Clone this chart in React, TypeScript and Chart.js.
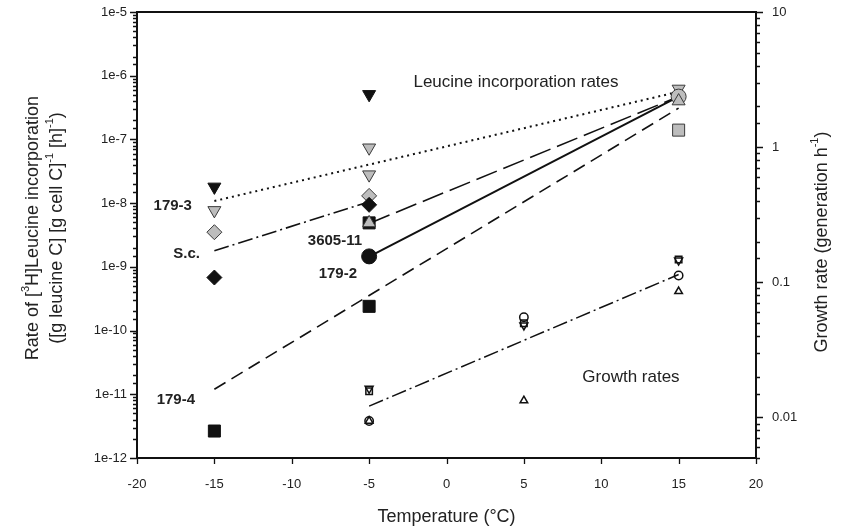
import React, { useEffect, useRef } from "react";
import { Chart, registerables } from "chart.js";

Chart.register(...registerables);

const FONT = "'Liberation Sans', Arial, Helvetica, sans-serif";

// ---------- axes ----------
const xMin = -20;
const xMax = 20;
const xStep = 5;
const leftMin = 1e-12;
const leftMax = 1e-5;
const rightMin = 0.005;
const rightMax = 10;
const leftTickLabels = ["1e-12", "1e-11", "1e-10", "1e-9", "1e-8", "1e-7", "1e-6", "1e-5"];
const leftTickExps = [-12, -11, -10, -9, -8, -7, -6, -5];
const rightTickLabels = ["0.01", "0.1", "1", "10"];
const rightTickExps = [-2, -1, 0, 1];

// ---------- leucine incorporation rates (left axis) ----------
const blackInvTriT = [-15, -5];
const blackInvTriV = [1.8e-8, 5.1e-7];
const grayInvTriT = [-15, -5, -5, 15];
const grayInvTriV = [7.7e-9, 7.4e-8, 2.8e-8, 6.2e-7];
const grayDiamondT = [-15, -5];
const grayDiamondV = [3.5e-9, 1.3e-8];
const blackDiamondT = [-15, -5];
const blackDiamondV = [6.8e-10, 9.4e-9];
const blackSquareT = [-15, -5, -5];
const blackSquareV = [2.65e-12, 4.9e-9, 2.4e-10];
const grayTriT = [-5, 15];
const grayTriV = [4.9e-9, 4.0e-7];
const blackCircleT = [-5];
const blackCircleV = [1.46e-9];
const grayCircleT = [15];
const grayCircleV = [4.7e-7];
const graySquareT = [15];
const graySquareV = [1.4e-7];

// regression lines (left axis)
const line1793T = [-15, 15];
const line1793V = [1.08e-8, 5.6e-7];
const lineScT = [-15, -5];
const lineScV = [1.79e-9, 1.05e-8];
const line360511T = [-5, 15];
const line360511V = [4.8e-9, 4.7e-7];
const line1792T = [-5, 15];
const line1792V = [1.45e-9, 4.7e-7];
const line1794T = [-15, 15];
const line1794V = [1.2e-11, 3.1e-7];

// ---------- growth rates (right axis) ----------
const openSquareT = [-5, 5, 15];
const openSquareV = [0.0156, 0.0497, 0.147];
const openInvTriT = [-5, 5, 15];
const openInvTriV = [0.0163, 0.048, 0.145];
const openCircleT = [-5, 5, 15];
const openCircleV = [0.0094, 0.055, 0.112];
const openTriT = [-5, 5, 15];
const openTriV = [0.0094, 0.0133, 0.0855];
const growthLineT = [-5, 15];
const growthLineV = [0.0121, 0.114];

// ---------- annotations ----------
const strainLabels = ["179-3", "S.c.", "179-4", "3605-11", "179-2"];
const strainLabelX = [-16.45, -15.93, -16.25, -5.46, -5.78];
const strainLabelY = [9.2e-9, 1.62e-9, 8.1e-12, 2.6e-9, 7.9e-10];
const regionLabels = ["Leucine incorporation rates", "Growth rates"];
const regionLabelX = [4.49, 11.92];
const regionLabelY = [8.0e-7, 1.87e-11];

const pts = (T: number[], V: number[]) => T.map((t, i) => ({ x: t, y: V[i] }));

const BLACK = "#111111";
const GRAY = "#bdbdbd";
const GRAY_EDGE = "#3a3a3a";

function markers(T: number[], V: number[], o: any) {
  return {
    type: "scatter",
    data: pts(T, V),
    yAxisID: o.axis || "y",
    showLine: false,
    pointStyle: o.style,
    pointRotation: o.rot || 0,
    pointRadius: o.r,
    pointHoverRadius: o.r,
    pointBackgroundColor: o.fill,
    pointBorderColor: o.edge,
    pointBorderWidth: o.bw || 1,
    clip: false,
  };
}

function line(T: number[], V: number[], o: any) {
  return {
    type: "scatter",
    data: pts(T, V),
    yAxisID: o.axis || "y",
    showLine: true,
    pointRadius: 0,
    pointHoverRadius: 0,
    borderColor: "#111",
    borderWidth: o.w || 1.6,
    borderDash: o.dash || [],
    fill: false,
    tension: 0,
    clip: false,
  };
}

const isDecade = (v: number) => Math.abs(Math.log10(v) - Math.round(Math.log10(v))) < 1e-6;

type Seg = { t: string; sup?: boolean };

function drawRich(ctx: CanvasRenderingContext2D, segs: Seg[], x: number, y: number, size: number, rot: number) {
  const supSize = Math.round(size * 0.62);
  let total = 0;
  const widths = segs.map((s) => {
    ctx.font = `${s.sup ? supSize : size}px ${FONT}`;
    const w = ctx.measureText(s.t).width;
    total += w;
    return w;
  });
  ctx.save();
  ctx.translate(x, y);
  ctx.rotate(rot);
  ctx.textBaseline = "middle";
  ctx.textAlign = "left";
  let cx = -total / 2;
  segs.forEach((s, i) => {
    ctx.font = `${s.sup ? supSize : size}px ${FONT}`;
    ctx.fillText(s.t, cx, s.sup ? -size * 0.38 : 0);
    cx += widths[i];
  });
  ctx.restore();
}

const decorPlugin = {
  id: "decor",
  afterDraw(chart: any) {
    const ctx: CanvasRenderingContext2D = chart.ctx;
    const { left, right, top, bottom } = chart.chartArea;
    const xs = chart.scales.x;
    const ys = chart.scales.y;
    const y2 = chart.scales.y2;
    ctx.save();
    ctx.strokeStyle = "#111";
    // ticks
    ctx.lineWidth = 1.3;
    ctx.beginPath();
    ys.ticks.forEach((t: any) => {
      const p = Math.round(ys.getPixelForValue(t.value)) + 0.5;
      const len = isDecade(t.value) ? 7 : 4;
      ctx.moveTo(left, p);
      ctx.lineTo(left - len, p);
    });
    y2.ticks.forEach((t: any) => {
      const p = Math.round(y2.getPixelForValue(t.value)) + 0.5;
      const len = isDecade(t.value) ? 7 : 4;
      ctx.moveTo(right, p);
      ctx.lineTo(right + len, p);
    });
    xs.ticks.forEach((t: any) => {
      const p = Math.round(xs.getPixelForValue(t.value)) + 0.5;
      ctx.moveTo(p, bottom);
      ctx.lineTo(p, bottom + 6);
    });
    ctx.stroke();
    // frame
    ctx.lineWidth = 2;
    ctx.strokeRect(left, top, right - left, bottom - top);

    // strain labels
    ctx.fillStyle = "#222";
    ctx.font = `bold 15px ${FONT}`;
    ctx.textAlign = "right";
    ctx.textBaseline = "middle";
    strainLabels.forEach((s, i) => {
      ctx.fillText(s, xs.getPixelForValue(strainLabelX[i]), ys.getPixelForValue(strainLabelY[i]));
    });
    ctx.font = `17px ${FONT}`;
    ctx.textAlign = "center";
    regionLabels.forEach((s, i) => {
      ctx.fillText(s, xs.getPixelForValue(regionLabelX[i]), ys.getPixelForValue(regionLabelY[i]));
    });

    // axis titles
    drawRich(ctx, [{ t: "Rate of [" }, { t: "3", sup: true }, { t: "H]Leucine incorporation" }], 33, 228, 18, -Math.PI / 2);
    drawRich(
      ctx,
      [{ t: "([g leucine C] [g cell C]" }, { t: "-1", sup: true }, { t: " [h]" }, { t: "-1", sup: true }, { t: ")" }],
      57,
      228,
      18,
      -Math.PI / 2
    );
    drawRich(ctx, [{ t: "Growth rate (generation h" }, { t: "-1", sup: true }, { t: ")" }], 822, 242, 18, -Math.PI / 2);
    drawRich(ctx, [{ t: "Temperature (°C)" }], (left + right) / 2, 517, 18, 0);
    ctx.restore();
  },
};

export default function App() {
  const ref = useRef<HTMLCanvasElement>(null);
  useEffect(() => {
    const canvas = ref.current;
    if (!canvas) return;
    const datasets: any[] = [
      // growth rate markers (right axis)
      markers(openSquareT, openSquareV, { axis: "y2", style: "rect", r: 4.6, fill: "rgba(0,0,0,0)", edge: BLACK, bw: 1.5 }),
      markers(openInvTriT, openInvTriV, { axis: "y2", style: "triangle", rot: 180, r: 4.6, fill: "#fff", edge: BLACK, bw: 1.5 }),
      markers(openCircleT, openCircleV, { axis: "y2", style: "circle", r: 4.2, fill: "rgba(0,0,0,0)", edge: BLACK, bw: 1.5 }),
      markers(openTriT, openTriV, { axis: "y2", style: "triangle", r: 4.4, fill: "rgba(0,0,0,0)", edge: BLACK, bw: 1.5 }),
      // leucine markers (left axis)
      markers(grayTriT, grayTriV, { style: "triangle", r: 7.5, fill: GRAY, edge: GRAY_EDGE }),
      markers(grayCircleT, grayCircleV, { style: "circle", r: 7.5, fill: GRAY, edge: GRAY_EDGE }),
      markers(grayInvTriT, grayInvTriV, { style: "triangle", rot: 180, r: 7.5, fill: GRAY, edge: GRAY_EDGE }),
      markers(blackInvTriT, blackInvTriV, { style: "triangle", rot: 180, r: 7.5, fill: BLACK, edge: BLACK }),
      markers(blackDiamondT, blackDiamondV, { style: "rectRot", r: 7.5, fill: BLACK, edge: BLACK }),
      markers(grayDiamondT, grayDiamondV, { style: "rectRot", r: 7.5, fill: GRAY, edge: GRAY_EDGE }),
      markers(blackSquareT, blackSquareV, { style: "rect", r: 8.5, fill: BLACK, edge: BLACK }),
      markers(graySquareT, graySquareV, { style: "rect", r: 8.5, fill: GRAY, edge: GRAY_EDGE }),
      markers(blackCircleT, blackCircleV, { style: "circle", r: 7.5, fill: BLACK, edge: BLACK }),
      // lines
      line(line1793T, line1793V, { dash: [2, 4], w: 2 }),
      line(lineScT, lineScV, { dash: [15, 4, 2, 4], w: 1.6 }),
      line(line360511T, line360511V, { dash: [22, 7], w: 1.6 }),
      line(line1792T, line1792V, { w: 2 }),
      line(line1794T, line1794V, { dash: [13, 7], w: 1.6 }),
      line(growthLineT, growthLineV, { axis: "y2", dash: [15, 4, 2, 4], w: 1.5 }),
    ];

    const noPad = (s: any) => {
      s.paddingTop = 0;
      s.paddingBottom = 0;
      s.paddingLeft = 0;
      s.paddingRight = 0;
    };

    const chart = new Chart(canvas, {
      type: "scatter",
      data: { datasets },
      options: {
        responsive: false,
        animation: false,
        events: [],
        layout: { padding: { top: 12, left: 0, right: 0, bottom: 0 } },
        plugins: { legend: { display: false }, tooltip: { enabled: false }, title: { display: false } },
        scales: {
          x: {
            type: "linear",
            position: "bottom",
            min: xMin,
            max: xMax,
            ticks: {
              stepSize: xStep,
              color: "#222",
              font: { family: FONT, size: 13 },
              padding: 13,
            },
            grid: { display: false, drawTicks: true, tickLength: 6 },
            border: { display: false },
            afterFit: (s: any) => {
              s.height = 72;
              noPad(s);
            },
          },
          y: {
            type: "logarithmic",
            position: "left",
            min: leftMin,
            max: leftMax,
            ticks: {
              autoSkip: false,
              color: "#222",
              font: { family: FONT, size: 13 },
              padding: 3,
              callback: (v: any) => {
                const n = Number(v);
                if (!isDecade(n)) return "";
                const i = leftTickExps.indexOf(Math.round(Math.log10(n)));
                return i >= 0 ? leftTickLabels[i] : "";
              },
            },
            grid: { display: false, drawTicks: true, tickLength: 7 },
            border: { display: false },
            afterFit: (s: any) => {
              s.width = 137;
              noPad(s);
            },
          },
          y2: {
            type: "logarithmic",
            position: "right",
            min: rightMin,
            max: rightMax,
            ticks: {
              autoSkip: false,
              color: "#222",
              font: { family: FONT, size: 13 },
              padding: 9,
              callback: (v: any) => {
                const n = Number(v);
                if (!isDecade(n)) return "";
                const i = rightTickExps.indexOf(Math.round(Math.log10(n)));
                return i >= 0 ? rightTickLabels[i] : "";
              },
            },
            grid: { display: false, drawTicks: true, tickLength: 7 },
            border: { display: false },
            afterFit: (s: any) => {
              s.width = 87;
              noPad(s);
            },
          },
        },
      } as any,
      plugins: [decorPlugin],
    });
    return () => chart.destroy();
  }, []);

  return (
    <div style={{ position: "fixed", left: 0, top: 0, width: 843, height: 530, background: "#fff" }}>
      <canvas ref={ref} width={843} height={530} style={{ display: "block", width: 843, height: 530 }} />
    </div>
  );
}
